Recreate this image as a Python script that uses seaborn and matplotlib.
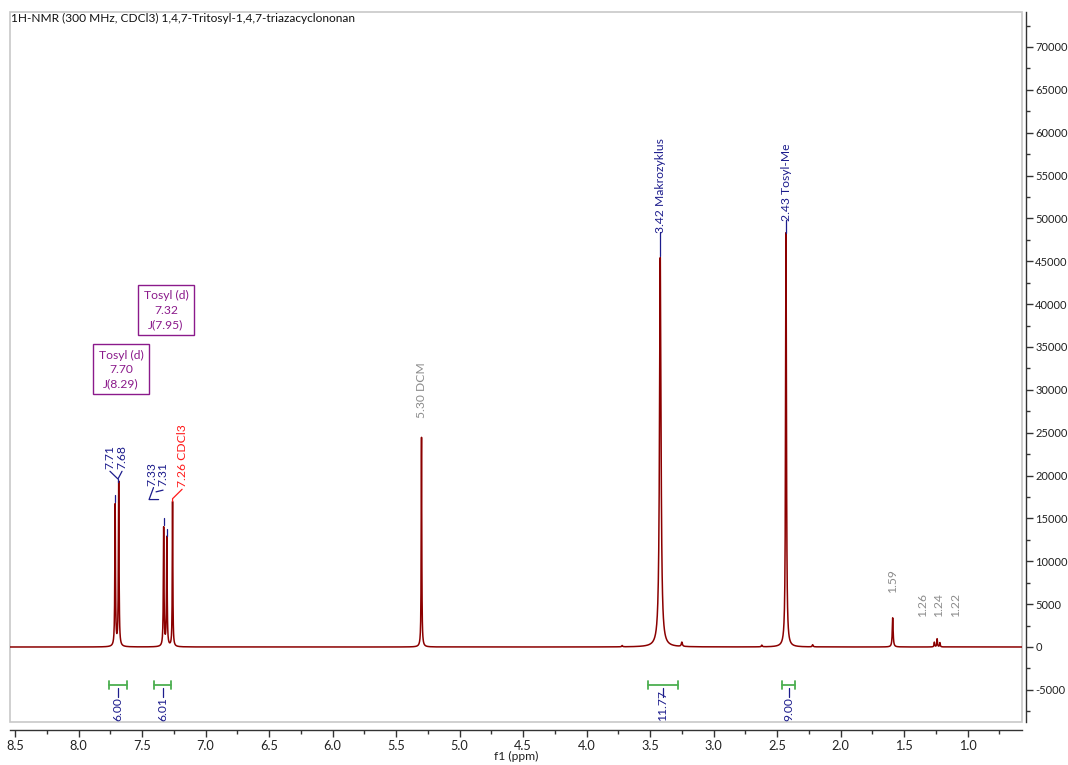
import numpy as np
import pandas as pd
import seaborn as sns
import matplotlib
matplotlib.use("Agg")
import matplotlib.pyplot as plt
from matplotlib.patches import Rectangle
from matplotlib.ticker import MultipleLocator, FuncFormatter

# ---------------- data ----------------
title = "1H-NMR (300 MHz, CDCl3) 1,4,7-Tritosyl-1,4,7-triazacyclononan"

# peak table: position (ppm), height (intensity), half width (ppm)
peak_ppm = [7.712, 7.684, 7.330, 7.305, 7.260, 5.300, 3.720, 3.420, 3.250,
            2.620, 2.430, 2.220, 1.590, 1.262, 1.240, 1.218]
peak_height = [16600, 19200, 13900, 12700, 16900, 24600, 150, 45500, 500,
               200, 48400, 250, 3400, 550, 950, 500]
peak_hwhm = [0.003, 0.003, 0.003, 0.003, 0.0025, 0.0025, 0.004, 0.007, 0.005,
             0.004, 0.004, 0.004, 0.004, 0.003, 0.003, 0.003]

# blue peak labels
blue_labels = ["7.71", "7.68", "7.33", "7.31"]
blue_label_peaks = [7.712, 7.684, 7.330, 7.305]
big_labels = ["3.42 Makrozyklus", "2.43 Tosyl-Me"]
big_label_ppm = [3.42, 2.43]
cdcl3_label = "7.26 CDCl3"
gray_labels = ["5.30 DCM", "1.59", "1.26", "1.24", "1.22"]

# multiplet boxes
box_texts = ["Tosyl (d)\n7.32\nJ(7.95)", "Tosyl (d)\n7.70\nJ(8.29)"]

# integrals
int_values = ["6.00", "6.01", "11.77", "9.00"]
int_start = [7.761, 7.406, 3.517, 2.461]
int_end = [7.619, 7.272, 3.280, 2.359]

x_ticks = [8.5, 8.0, 7.5, 7.0, 6.5, 6.0, 5.5, 5.0, 4.5, 4.0, 3.5, 3.0, 2.5, 2.0, 1.5, 1.0]
y_ticks = [-5000, 0, 5000, 10000, 15000, 20000, 25000, 30000, 35000,
           40000, 45000, 50000, 55000, 60000, 65000, 70000]

# ---------------- style ----------------
sns.set_theme(style="white")
plt.rcParams['font.family'] = ['Lato', 'DejaVu Sans']
plt.rcParams['axes.unicode_minus'] = False

BLUE = "#1c1c8c"
RED = "#ff1a1a"
GRAY = "#8c8c8c"
PURPLE = "#8b1a8b"
GREEN = "#4caf50"
SPEC = "#8b0000"
FS = 8.7

W, H = 1068, 765
fig = plt.figure(figsize=(W / 100, H / 100), dpi=100)
ax = fig.add_axes([10 / W, 1 - 722 / H, 1012 / W, 710 / H])

xmin, xmax = 0.572, 8.540
ymin, ymax = -8750, 74080

# spectrum built from peak table (Lorentzian lines)
ppm = np.linspace(xmin, xmax, 16000)
inten = np.zeros_like(ppm)
for p, h, w in zip(peak_ppm, peak_height, peak_hwhm):
    inten += h * w ** 2 / ((ppm - p) ** 2 + w ** 2)
df = pd.DataFrame({"ppm": ppm, "intensity": inten})
sns.lineplot(data=df, x="ppm", y="intensity", ax=ax, color=SPEC, lw=1.1,
             estimator=None, sort=False)

ax.set_xlim(xmax, xmin)
ax.set_ylim(ymin, ymax)

# frame and axes
for s in ["top", "left"]:
    ax.spines[s].set_visible(False)
ax.spines["bottom"].set_position(("outward", 6))
ax.spines["right"].set_position(("outward", 3))
for s in ["bottom", "right"]:
    ax.spines[s].set_color("#333333")
    ax.spines[s].set_linewidth(1.0)
ax.add_patch(Rectangle((0, 0), 1, 1, transform=ax.transAxes, fill=False,
                       edgecolor="#c8c8c8", lw=1.2, clip_on=False, zorder=0))

ax.yaxis.tick_right()
ax.yaxis.set_label_position("right")
ax.set_yticks(y_ticks)
ax.yaxis.set_minor_locator(MultipleLocator(2500))
ax.yaxis.set_major_formatter(FuncFormatter(lambda v, p: f"{int(v)}"))
ax.set_xticks(x_ticks)
ax.xaxis.set_minor_locator(MultipleLocator(0.25))
ax.xaxis.set_major_formatter(FuncFormatter(lambda v, p: f"{v:.1f}"))
ax.tick_params(axis="both", which="major", length=5, width=1, color="#333333",
               labelcolor="#222222", pad=2)
ax.tick_params(axis="x", labelsize=9.2)
ax.tick_params(axis="y", labelsize=8.0, pad=1.5)
ax.tick_params(axis="both", which="minor", length=3, width=1, color="#333333")
ax.tick_params(axis="x", which="both", bottom=True, top=False)
ax.tick_params(axis="y", which="both", right=True, left=False)
ax.set_xlabel("f1 (ppm)", fontsize=FS, color="#222222", labelpad=-1)
ax.set_ylabel("")

fig.text(11 / W, 1 - 18 / H, title, fontsize=8.6, ha="left", va="center",
         color="#111111")

# ---------- peak labels ----------
txt = dict(rotation=90, ha="center", va="bottom", fontsize=FS)
# 7.71 / 7.68 pair
ax.text(7.753, 20800, blue_labels[0], color=BLUE, **txt)
ax.text(7.658, 20800, blue_labels[1], color=BLUE, **txt)
ax.plot([7.753, 7.690, 7.658], [20500, 19600, 20500], color=BLUE, lw=0.9)
ax.plot([7.690, 7.690], [19600, 19300], color=BLUE, lw=0.9)
ax.plot([blue_label_peaks[0]] * 2, [16900, 17700], color=BLUE, lw=0.9)
# 7.33 / 7.31 pair
ax.text(7.422, 18800, blue_labels[2], color=BLUE, **txt)
ax.text(7.335, 18800, blue_labels[3], color=BLUE, **txt)
ax.plot([7.41, 7.445, 7.37], [18600, 17200, 17200], color=BLUE, lw=0.9)
ax.plot([7.335, 7.39], [18300, 18100], color=BLUE, lw=0.9)
ax.plot([blue_label_peaks[2]] * 2, [14200, 15100], color=BLUE, lw=0.9)
ax.plot([blue_label_peaks[3]] * 2, [13000, 13800], color=BLUE, lw=0.9)
# CDCl3
ax.text(7.178, 18650, cdcl3_label, color=RED, **txt)
ax.plot([7.185, 7.26, 7.26], [18400, 17300, 17000], color=RED, lw=0.9)
# big blue labels
ax.text(big_label_ppm[0], 48350, big_labels[0], color=BLUE, **txt)
ax.plot([big_label_ppm[0]] * 2, [48400, 45600], color=BLUE, lw=0.9)
ax.text(big_label_ppm[1], 49750, big_labels[1], color=BLUE, **txt)
ax.plot([big_label_ppm[1]] * 2, [49800, 48300], color=BLUE, lw=0.9)
# gray labels
ax.text(5.300, 26700, gray_labels[0], color=GRAY, **txt)
ax.text(1.590, 6300, gray_labels[1], color=GRAY, **txt)
ax.text(1.359, 3500, gray_labels[2], color=GRAY, **txt)
ax.text(1.233, 3500, gray_labels[3], color=GRAY, **txt)
ax.text(1.099, 3500, gray_labels[4], color=GRAY, **txt)

# multiplet boxes
box = dict(boxstyle="square,pad=0.45", fc="white", ec=PURPLE, lw=1.0)
ax.text(7.312, 39300, box_texts[0], color=PURPLE, ha="center", va="center",
        fontsize=FS, linespacing=1.35, bbox=box)
ax.text(7.666, 32400, box_texts[1], color=PURPLE, ha="center", va="center",
        fontsize=FS, linespacing=1.35, bbox=box)

# integrals
y_int = -4430
cap = 470
for val, a, b in zip(int_values, int_start, int_end):
    c = (a + b) / 2
    ax.plot([a, b], [y_int, y_int], color=GREEN, lw=1.3)
    ax.plot([a, a], [y_int - cap, y_int + cap], color=GREEN, lw=1.3)
    ax.plot([b, b], [y_int - cap, y_int + cap], color=GREEN, lw=1.3)
    ax.plot([c, c], [y_int - 350, y_int - 1350], color=BLUE, lw=0.9)
    ax.text(c, ymin + 80, val, color=BLUE, rotation=90, ha="center",
            va="bottom", fontsize=FS)

fig.savefig("out.png", dpi=100)
